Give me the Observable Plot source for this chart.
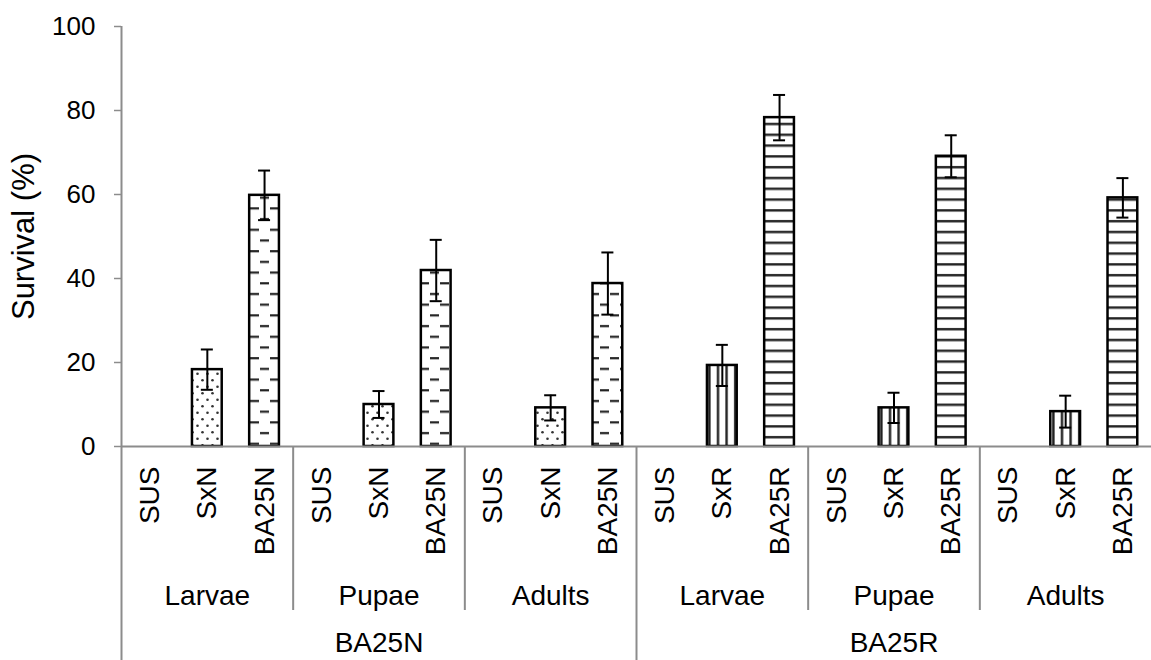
<!DOCTYPE html>
<html>
<head>
<meta charset="utf-8">
<script src="https://cdn.jsdelivr.net/npm/d3@7"></script>
<script src="https://cdn.jsdelivr.net/npm/@observablehq/plot@0.6"></script>
<style>
  html, body { margin: 0; padding: 0; background: #fff; }
  #chart { width: 1151px; height: 660px; }
</style>
</head>
<body>
<div id="chart"></div>
<script>
// ---- data ----
const populations = ["BA25N", "BA25R"];
const stages = ["Larvae", "Pupae", "Adults"];
const strainsBA25N = ["SUS", "SxN", "BA25N"];
const strainsBA25R = ["SUS", "SxR", "BA25R"];

// survival (%) per stage: [SUS, cross, resistant]
const survivalBA25N = { Larvae: [0, 18.3, 59.8], Pupae: [0, 10.0, 41.9], Adults: [0, 9.2, 38.8] };
const survivalBA25R = { Larvae: [0, 19.3, 78.3], Pupae: [0, 9.2, 69.1], Adults: [0, 8.3, 59.2] };
// error (±)
const errorBA25N = { Larvae: [0, 4.8, 5.9], Pupae: [0, 3.2, 7.3], Adults: [0, 3.0, 7.4] };
const errorBA25R = { Larvae: [0, 4.9, 5.4], Pupae: [0, 3.6, 5.0], Adults: [0, 3.8, 4.7] };

const yTicks = [0, 20, 40, 60, 80, 100];
const yLabel = "Survival (%)";

// ---- build table ----
const strainsOf = { BA25N: strainsBA25N, BA25R: strainsBA25R };
const survOf = { BA25N: survivalBA25N, BA25R: survivalBA25R };
const errOf = { BA25N: errorBA25N, BA25R: errorBA25R };
const patternOf = { SxN: "url(#pSxN)", BA25N: "url(#pBA25N)", SxR: "url(#pSxR)", BA25R: "url(#pBA25R)" };

const rows = [];
const stageRows = [];
const popRows = [];
let i = 0;
populations.forEach((pop) => {
  const start = i;
  stages.forEach((stage) => {
    const sStart = i;
    strainsOf[pop].forEach((strain, k) => {
      rows.push({ i, pop, stage, strain, v: survOf[pop][stage][k], e: errOf[pop][stage][k] });
      i++;
    });
    stageRows.push({ pop, stage, start: sStart, end: i });
  });
  popRows.push({ pop, start, end: i });
});
const n = i;
const stageSeps = stageRows.filter(s => s.start !== popRows.find(p => p.pop === s.pop).start).map(s => s.start);
const popSeps = popRows.slice(1).map(p => p.start);

const font = "'Liberation Sans', Arial, Helvetica, sans-serif";
const grey = "#8c8c8c";
const barHalf = 0.26;
const capHalf = 0.105;

const barMarks = Object.keys(patternOf).map(strain =>
  Plot.rectY(rows.filter(d => d.strain === strain && d.v > 0), {
    x1: d => d.i + 0.5 - barHalf,
    x2: d => d.i + 0.5 + barHalf,
    y1: 0,
    y2: "v",
    fill: patternOf[strain],
    stroke: "black",
    strokeWidth: 2.5
  })
);

const errRows = rows.filter(d => d.e > 0);

const svg = Plot.plot({
  width: 1151,
  height: 660,
  marginLeft: 121,
  marginRight: 0,
  marginTop: 26,
  marginBottom: 214,
  style: { fontFamily: font, background: "white", color: "black" },
  x: { domain: [0, n], axis: null },
  y: { domain: [0, 100], axis: null },
  marks: [
    // bars
    ...barMarks,
    // baseline
    Plot.ruleY([0], { stroke: grey, strokeWidth: 2 }),
    // error bars
    Plot.ruleX(errRows, { x: d => d.i + 0.5, y1: d => d.v - d.e, y2: d => d.v + d.e, stroke: "black", strokeWidth: 2 }),
    Plot.ruleY(errRows, { y: d => d.v + d.e, x1: d => d.i + 0.5 - capHalf, x2: d => d.i + 0.5 + capHalf, stroke: "black", strokeWidth: 2 }),
    Plot.ruleY(errRows, { y: d => d.v - d.e, x1: d => d.i + 0.5 - capHalf, x2: d => d.i + 0.5 + capHalf, stroke: "black", strokeWidth: 2 }),
    // y axis
    Plot.ruleX([0], { stroke: grey, strokeWidth: 2, insetBottom: -214 }),
    Plot.axisY({ ticks: yTicks, tickSize: 7, tickPadding: 19, stroke: grey, strokeWidth: 1.5, fontSize: 26, fill: "black", label: null }),
    Plot.text([yLabel], { frameAnchor: "left", dx: -97, rotate: -90, textAnchor: "middle", lineAnchor: "middle", fontSize: 31, fill: "black" }),
    // hierarchical category axis
    Plot.ruleX(stageSeps, { x: d => d, stroke: grey, strokeWidth: 2, insetTop: 420, insetBottom: -164 }),
    Plot.ruleX(popSeps, { x: d => d, stroke: grey, strokeWidth: 2, insetTop: 420, insetBottom: -214 }),
    Plot.text(rows, { x: d => d.i + 0.5, text: "strain", frameAnchor: "bottom", dy: 20, rotate: -90, textAnchor: "end", lineAnchor: "middle", fontSize: 28, fill: "black" }),
    Plot.text(stageRows, { x: d => (d.start + d.end) / 2, text: "stage", frameAnchor: "bottom", dy: 150, lineAnchor: "middle", fontSize: 28, fill: "black" }),
    Plot.text(popRows, { x: d => (d.start + d.end) / 2, text: "pop", frameAnchor: "bottom", dy: 197, lineAnchor: "middle", fontSize: 28, fill: "black" })
  ]
});

d3.select(svg).insert("defs", ":first-child").html(`
  <pattern id="pSxN" width="10" height="13" patternUnits="userSpaceOnUse">
    <rect width="10" height="13" fill="white"/>
    <circle cx="2.5" cy="3.25" r="1.3" fill="#333"/>
    <circle cx="7.5" cy="9.75" r="1.3" fill="#333"/>
  </pattern>
  <pattern id="pBA25N" width="20" height="21.4" patternUnits="userSpaceOnUse">
    <rect width="20" height="21.4" fill="white"/>
    <rect x="0" y="4" width="9" height="2.2" fill="#222"/>
    <rect x="10" y="14.7" width="9" height="2.2" fill="#222"/>
  </pattern>
  <pattern id="pSxR" width="8.6" height="10" patternUnits="userSpaceOnUse">
    <rect width="8.6" height="10" fill="white"/>
    <rect x="3" y="0" width="2.4" height="10" fill="#222"/>
  </pattern>
  <pattern id="pBA25R" width="10" height="10.8" patternUnits="userSpaceOnUse">
    <rect width="10" height="10.8" fill="white"/>
    <rect x="0" y="4" width="10" height="2.4" fill="#222"/>
  </pattern>
`);

document.getElementById("chart").appendChild(svg);
</script>
</body>
</html>
